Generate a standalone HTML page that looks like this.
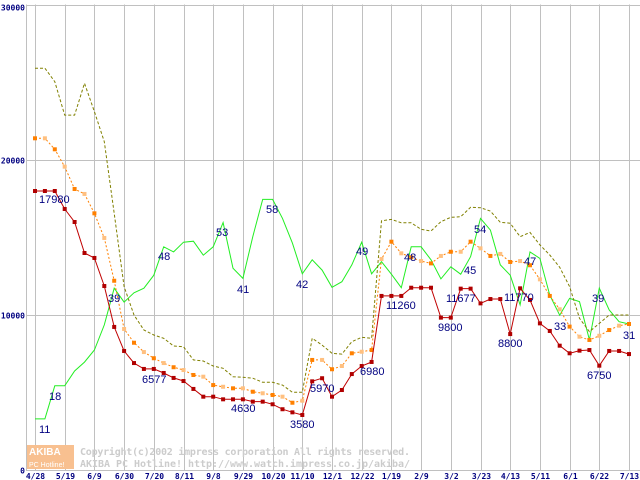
<!DOCTYPE html>
<html><head><meta charset="utf-8"><style>
html,body{margin:0;padding:0;background:#fff;}
svg{display:block;}
.ax{font-family:"DejaVu Sans Mono","Liberation Mono",monospace;font-size:8px;font-weight:bold;fill:#000080;}
.lbl{font-family:"Liberation Sans",sans-serif;font-size:11px;fill:#000080;}
.wm{font-family:"DejaVu Sans Mono","Liberation Mono",monospace;font-size:10px;font-weight:bold;fill:#cccccc;}
</style></head><body>
<svg id="chart" width="640" height="480" viewBox="0 0 640 480">
<g id="grid"></g>
<g id="wmark">
<rect x="27" y="445" width="47" height="24" fill="#f8c090"/>
<text x="29" y="455" font-family="Liberation Sans,sans-serif" font-size="10" font-weight="bold" fill="#ffffff">AKIBA</text>
<text x="29" y="467" font-family="Liberation Sans,sans-serif" font-size="7" fill="#ffffff">PC Hotline!</text>
<text class="wm" x="80" y="455" textLength="330">Copyright(c)2002 impress corporation All rights reserved.</text>
<text class="wm" x="80" y="467" textLength="330">AKIBA PC Hotline!  http://www.watch.impress.co.jp/akiba/</text>
</g>
<g id="series"></g>
<g id="labels"></g>
</svg>
<script>
const xLabels=["4/28","5/19","6/9","6/30","7/20","8/11","9/8","9/29","10/20","11/10","12/1","12/22","1/19","2/9","3/2","3/23","4/13","5/11","6/1","6/22","7/13"];
const yTicks=[0,10000,20000,30000];
const minPrice=[18000,18000,18000,16840,16000,14000,13680,11870,9230,7680,6900,6520,6520,6260,5940,5740,5230,4730,4730,4560,4560,4560,4410,4410,4240,3920,3720,3550,5720,5920,4730,5160,6190,6710,6970,11230,11230,11230,11760,11760,11760,9830,9830,11700,11700,10750,11030,11030,8770,11720,10970,9460,8970,8020,7530,7700,7740,6730,7680,7680,7480];
const avgPrice=[21400,21400,20690,19570,18130,17810,16560,14970,12210,9100,8210,7610,7210,6900,6630,6450,6130,6020,5480,5370,5270,5270,5050,4950,4840,4730,4340,4470,7100,7100,6500,6710,7530,7630,7740,13610,14730,13980,13720,13480,13330,13810,14080,14080,14730,14300,13810,13940,13420,13480,13210,12300,11230,10370,9250,8600,8390,8660,9030,9310,9420];
const maxPrice=[25920,25920,25050,22900,22900,24950,23120,21180,16560,11830,10000,9030,8710,8500,8000,7950,7100,7030,6710,6560,6020,5980,5920,5660,5660,5480,5010,5010,8500,8060,7530,7480,8280,8560,8500,16080,16170,15950,15950,15530,15420,16020,16300,16340,16950,16920,16700,15980,15920,15050,15330,14520,13870,13080,11830,9790,8920,9460,10000,10000,10000];
const shopCount=[11,11,18.1,18.1,21.3,23.2,25.8,31.2,39.1,36.1,38.1,39.1,41.9,48,46.9,49,49.2,46.2,48,53.2,43.4,41.2,50.2,58.2,58.2,54.1,48.8,42.2,45.2,43,39.3,40.5,44.1,49,42.2,44.8,42.1,39.2,48,48,45.2,41.1,43.7,42.1,45.9,54.1,51.6,44.1,41.9,35.5,46.9,45.5,37.6,33.3,36.9,36.2,28,39.1,34.4,31.9,31.4];
const priceLabels=[[0,"17980",39,203],[12,"6577",142,383],[21,"4630",231,412],[27,"3580",290,428],[29,"5970",310,392],[34,"6980",360,375],[36,"11260",386,309],[41,"9800",438,331],[43,"11677",446,302],[48,"8800",498,347],[49,"11770",504,301],[57,"6750",587,379]];
const countLabels=[[0,"11",39,433],[2,"18",49,400],[8,"39",108,302],[13,"48",158,260],[19,"53",216,236],[21,"41",237,293],[23,"58",266,213],[27,"42",296,288],[33,"49",356,255],[37,"48",404,261],[44,"45",464,274],[45,"54",474,233],[50,"47",524,265],[53,"33",554,330],[57,"39",592,302],[60,"31",623,339]];

const NS="http://www.w3.org/2000/svg";
const X0=35,DX=9.9,Y0=470,YK=15.5/1000,COUNT_SCALE=300;
function xs(i){return X0+i*DX;}
function ys(v){return Y0-v*YK;}
function el(tag,attrs,parent){const e=document.createElementNS(NS,tag);for(const k in attrs)e.setAttribute(k,attrs[k]);parent.appendChild(e);return e;}
const grid=document.getElementById('grid'),ser=document.getElementById('series'),lab=document.getElementById('labels');
xLabels.forEach((t,k)=>{const x=Math.round(xs(k*3))+0.5;
 const l=el('line',{x1:x,y1:4.5,x2:x,y2:470,stroke:'#c0c0c0'},grid);
 
 
 const tx=el('text',{x:x,y:479,'text-anchor':'middle',class:'ax'},grid);tx.textContent=t;
 
 
});
const axl=el('line',{x1:26.5,y1:4.5,x2:26.5,y2:470,stroke:'#c0c0c0'},grid);


yTicks.forEach(v=>{const y=Math.round(ys(v))+0.5;
 const l=el('line',{x1:26,y1:y,x2:640,y2:y,stroke:'#c0c0c0'},grid);
 
 
 const tx=el('text',{x:25,y:Math.min(y+3,477)+(v===30000?2:0),'text-anchor':'end',class:'ax'},grid);tx.textContent=String(v);
 
 
});
function pts(arr,f){return arr.map((v,i)=>xs(i).toFixed(1)+','+f(v).toFixed(1)).join(' ');}
const gl=el('polyline',{points:pts(shopCount,c=>ys(c*COUNT_SCALE)),fill:'none',stroke:'#22ee22','stroke-width':1},ser);


const ol=el('polyline',{points:pts(maxPrice,ys),fill:'none',stroke:'#808000','stroke-width':1,'stroke-dasharray':'3,2'},ser);


const al=el('polyline',{points:pts(avgPrice,ys),fill:'none',stroke:'#ff8000','stroke-width':1,'stroke-dasharray':'2,2'},ser);


avgPrice.forEach((v,i)=>{const r=el('rect',{x:xs(i)-2,y:ys(v)-2,width:4,height:4,fill:(i%2?'#ffc080':'#ff8000')},ser);
 
 });
const rl=el('polyline',{points:pts(minPrice,ys),fill:'none',stroke:'#c00000','stroke-width':1},ser);


minPrice.forEach((v,i)=>{const r=el('rect',{x:xs(i)-2,y:ys(v)-2,width:4,height:4,fill:'#b00000'},ser);
 
 });
priceLabels.concat(countLabels).forEach(a=>{const t=el('text',{x:a[2],y:a[3],class:'lbl'},lab);t.textContent=a[1];
 
 });
</script>
</body></html>
